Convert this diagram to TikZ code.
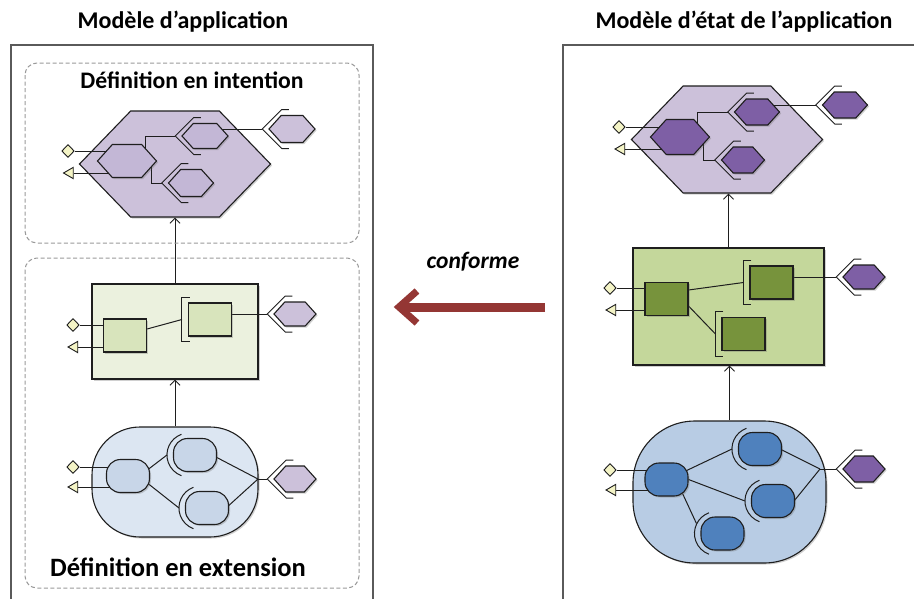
\documentclass[tikz,border=0pt]{standalone}
\usepackage{fontspec}
\setmainfont{Carlito}
\usetikzlibrary{shapes.symbols,shapes.geometric,arrows.meta,calc,shadows}
\pgfdeclarelayer{bg}
\pgfdeclarelayer{mid}
\pgfsetlayers{bg,mid,main}
\definecolor{outl}{HTML}{1E1E1E}
\definecolor{frame}{HTML}{5A5A5A}
\definecolor{dash}{HTML}{9A9A9A}
\definecolor{purL}{HTML}{CCC1DA}
\definecolor{purM}{HTML}{C3B7D6}
\definecolor{purD}{HTML}{7E5FA5}
\definecolor{grnLL}{HTML}{EBF1DE}
\definecolor{grnM}{HTML}{D8E4BC}
\definecolor{grnD}{HTML}{C4D79B}
\definecolor{grnDD}{HTML}{77933C}
\definecolor{bluLL}{HTML}{DCE6F2}
\definecolor{bluM}{HTML}{C8D6E8}
\definecolor{bluD}{HTML}{B8CCE4}
\definecolor{bluDD}{HTML}{4F81BD}
\definecolor{yel}{HTML}{F4F4C6}
\definecolor{conf}{HTML}{943634}
\tikzset{
  shad/.style={drop shadow={shadow xshift=1.5pt,shadow yshift=-1.5pt,opacity=0.3,fill=black!60}},
  hexs/.style={signal, signal to=east and west, signal pointer angle=96, draw=outl, line width=1.1pt, inner sep=0pt, shad},
  hexbig/.style={signal, signal to=east and west, signal pointer angle=92, draw=outl, line width=1.1pt, inner sep=0pt, minimum width=191pt, minimum height=106pt, shad},
  rbox/.style={rectangle, draw=outl, line width=1.1pt, inner sep=0pt, minimum width=43pt, minimum height=33pt, shad},
  obox/.style={rectangle, rounded corners=14pt, draw=outl, line width=1.1pt, inner sep=0pt, minimum width=43pt, minimum height=33pt, shad},
  cbox/.style={rectangle, draw=outl, line width=1.1pt, inner sep=0pt, minimum width=166pt, minimum height=95pt, shad},
  cont/.style={rectangle, draw=outl, line width=1.1pt, inner sep=0pt, shad},
  dia/.style={diamond, draw=outl, fill=yel, line width=0.9pt, inner sep=0pt, minimum width=12.5pt, minimum height=13pt},
  tri/.style={regular polygon, regular polygon sides=3, shape border rotate=90, draw=outl, fill=yel, line width=0.9pt, inner sep=0pt, minimum size=13pt},
  con/.style={draw=outl, line width=1pt},
  brk/.style={draw=outl, line width=1pt},
  arr/.style={draw=outl, line width=1pt, -{Straight Barb[length=5pt,width=10pt]}},
  dbox/.style={draw=dash, line width=1pt, dash pattern=on 4pt off 2.5pt, rounded corners=12pt},
  ttl/.style={font=\fontsize{24}{28}\selectfont\bfseries, inner sep=0pt},
}
\newcommand{\hbr}[3]{%
  \coordinate (#3) at ($(#1.west)+(-6,0)$);
  \draw[brk] ($(#3)+(#2+7,-#2)$) -- ++(-7,0) -- (#3) -- ++(#2,#2) -- ++(7,0);
}
\newcommand{\sbr}[3]{%
  \coordinate (#3) at ($(#1.west)+(-6,0)$);
  \draw[brk] ($(#3)+(8,-#2)$) -- ++(-8,0) -- ++(0,2*#2) -- ++(8,0);
}
\newcommand{\obr}[2]{%
  \coordinate (#2) at ($(#1.west)+(-6,0)$);
  \draw[brk] ($(#2)+(22,0)$) ++(110:22pt) arc[start angle=110,end angle=250,radius=22pt];
}
\begin{document}
\begin{tikzpicture}[x=1pt,y=-1pt]
\useasboundingbox (0,0) rectangle (914,598);
\begin{pgfonlayer}{bg}
\fill[white] (0,0) rectangle (914,598);
\end{pgfonlayer}
% titles
\node[ttl] (t1) at (183,22) {Modèle d’application};
\node[ttl] (t2) at (744,22) {Modèle d’état de l’application};
% frames
\draw[frame, line width=1.8pt] (11,605) -- (11,45) -- (373,45) -- (373,605);
\draw[frame, line width=1.8pt] (563,605) -- (563,45) -- (920,45);
\draw[dbox] (25,63) rectangle (359,243);
\draw[dbox] (25,258) rectangle (359,588);
\node[font=\fontsize{23.7}{28}\selectfont\bfseries] (di) at (192,80) {Définition en intention};
\node[font=\fontsize{26.5}{30}\selectfont\bfseries] (de) at (178,567) {Définition en extension};
% conforme
\node[font=\fontsize{23.5}{27}\selectfont\bfseries\itshape] (cf) at (473,262) {conforme};
\coordinate (cA) at (545,307);
\coordinate (cB) at (399,307);
\draw[conf, line width=9pt] (cA) -- ($(cB)+(4,0)$);
\draw[conf, line width=7pt, line join=miter] ($(cB)+(18,-16)$) -- (cB) -- ($(cB)+(18,16)$);

% ================= LEFT =================
\begin{pgfonlayer}{bg}
\node[hexbig, fill=purL] (H1) at (175,164) {};
\node[cbox, fill=grnLL] (B1) at (175,331.5) {};
\node[cont, fill=bluLL, minimum width=166pt, minimum height=110pt, rounded corners=48pt] (C1) at (175,482) {};
\end{pgfonlayer}
% top
\node[hexs, fill=purM, minimum width=59pt, minimum height=33pt] (Lm) at (127,161) {};
\node[hexs, fill=purM, minimum width=46pt, minimum height=25pt] (Lu) at (205,136) {};
\node[hexs, fill=purM, minimum width=45pt, minimum height=27pt] (Ll) at (191,183) {};
\node[hexs, fill=purL, minimum width=46pt, minimum height=27pt] (Le) at (292,129) {};
\node[dia] (Ld1) at (68,151) {};
\node[tri] (Lt1) at (70,173) {};
% middle
\node[rbox, fill=grnM] (Lr1) at (125,335.5) {};
\node[rbox, fill=grnM] (Lr2) at (210,319.5) {};
\node[hexs, fill=purL, minimum width=42pt, minimum height=24pt] (Le2) at (295,314) {};
\node[dia] (Ld2) at (73,325) {};
\node[tri] (Lt2) at (74.5,347) {};
% bottom
\node[obox, fill=bluM] (Lo1) at (128,476) {};
\node[obox, fill=bluM] (Lo2) at (195,455) {};
\node[obox, fill=bluM] (Lo3) at (207,508) {};
\node[hexs, fill=purL, minimum width=42pt, minimum height=26pt] (Le3) at (295,479) {};
\coordinate (Lj) at (258,479);
\node[dia] (Ld3) at (73,467) {};
\node[tri] (Lt3) at (74.5,487) {};

\begin{pgfonlayer}{mid}
\hbr{Lu}{18.5}{Lub}
\hbr{Ll}{19.5}{Llb}
\hbr{Le}{19.5}{Leb}
\draw[con] (Lub) -| ($(Lm)+(18,0)$);
\draw[con] (Llb) -| ($(Lm)+(24,0)$);
\draw[con] (Leb) -- (Leb -| Lu);
\draw[con] (Ld1) -- (Ld1 -| Lm);
\draw[con] (Lt1) -- (Lt1 -| Lm);
\sbr{Lr2}{22}{Lr2b}
\hbr{Le2}{18}{Le2b}
\draw[con] ($(Lr1.east)+(0,-6.5)$) -- (Lr2b);
\draw[con] (Le2b) -- (Le2b -| Lr2);
\draw[con] (Ld2) -- (Ld2 -| Lr1);
\draw[con] (Lt2) -- (Lt2 -| Lr1);
\obr{Lo2}{Lo2b}
\obr{Lo3}{Lo3b}
\hbr{Le3}{19}{Le3b}
\draw[con] ($(Lo1.east)+(-4,-5)$) -- (Lo2b);
\draw[con] ($(Lo1.east)+(-4,6)$) -- (Lo3b);
\draw[con] ($(Lo2.east)+(-5,0)$) -- (Lj);
\draw[con] ($(Lo3.east)+(-3,0)$) -- (Lj);
\draw[con] (Lj) -- (Le3b);
\draw[con] (Ld3) -- (Ld3 -| Lo1);
\draw[con] (Lt3) -- (Lt3 -| Lo1);
\draw[arr] (B1.north) -- (B1.north |- H1.south);
\draw[arr] (C1.north) -- (C1.north |- B1.south);
\end{pgfonlayer}

% ================= RIGHT =================
\begin{pgfonlayer}{bg}
\node[hexbig, fill=purL, minimum height=107pt] (H2) at (727,139.5) {};
\node[cbox, fill=grnD, minimum width=191pt, minimum height=117pt] (B2) at (728.5,306.5) {};
\node[cont, fill=bluD, minimum width=193pt, minimum height=142pt, rounded corners=62pt] (C2) at (729.5,492) {};
\end{pgfonlayer}
\node[hexs, fill=purD, minimum width=59pt, minimum height=35pt] (Rm) at (680,137) {};
\node[hexs, fill=purD, minimum width=45pt, minimum height=26pt] (Ru) at (757,112) {};
\node[hexs, fill=purD, minimum width=43pt, minimum height=26pt] (Rl) at (743,160) {};
\node[hexs, fill=purD, minimum width=45pt, minimum height=26pt] (Re) at (845,105) {};
\node[dia] (Rd1) at (619,127) {};
\node[tri] (Rt1) at (621.5,149) {};
\node[rbox, fill=grnDD] (Rr1) at (666.5,299) {};
\node[rbox, fill=grnDD] (Rr2) at (771.5,282.5) {};
\node[rbox, fill=grnDD] (Rr3) at (743.5,334) {};
\node[hexs, fill=purD, minimum width=42pt, minimum height=24pt] (Re2) at (864,277) {};
\node[dia] (Rd2) at (610,288) {};
\node[tri] (Rt2) at (612.5,310) {};
\node[obox, fill=bluDD] (Ro1) at (666.5,479.5) {};
\node[obox, fill=bluDD] (Ro2) at (760,449) {};
\node[obox, fill=bluDD] (Ro3) at (773,501) {};
\node[obox, fill=bluDD] (Ro4) at (722.5,533.5) {};
\node[hexs, fill=purD, minimum width=42pt, minimum height=26pt] (Re3) at (864,469) {};
\coordinate (Rj) at (820,469);
\node[dia] (Rd3) at (610,470) {};
\node[tri] (Rt3) at (612.5,490) {};

\begin{pgfonlayer}{mid}
\hbr{Ru}{19}{Rub}
\hbr{Rl}{19}{Rlb}
\hbr{Re}{19}{Reb}
\draw[con] (Rub) -| ($(Rm)+(17,0)$);
\draw[con] (Rlb) -| ($(Rm)+(23,0)$);
\draw[con] (Reb) -- (Reb -| Ru);
\draw[con] (Rd1) -- (Rd1 -| Rm);
\draw[con] (Rt1) -- (Rt1 -| Rm);
\sbr{Rr2}{22}{Rr2b}
\sbr{Rr3}{22.5}{Rr3b}
\hbr{Re2}{18}{Re2b}
\draw[con] ($(Rr1.east)+(0,-9)$) -- (Rr2b);
\draw[con] ($(Rr1.east)+(0,7)$) -- (Rr3b);
\draw[con] (Re2b) -- (Re2b -| Rr2);
\draw[con] (Rd2) -- (Rd2 -| Rr1);
\draw[con] (Rt2) -- (Rt2 -| Rr1);
\obr{Ro2}{Ro2b}
\obr{Ro3}{Ro3b}
\obr{Ro4}{Ro4b}
\hbr{Re3}{19}{Re3b}
\draw[con] ($(Ro1.east)+(-4,-8)$) -- (Ro2b);
\draw[con] (Ro1.east) -- (Ro3b);
\draw[con] ($(Ro1.east)+(-6,14)$) -- ($(Ro4b)+(2,-10)$);
\draw[con] ($(Ro2.east)+(-2,0)$) -- (Rj);
\draw[con] ($(Ro3.east)+(-1,0)$) -- (Rj);
\draw[con] (Rj) -- (Re3b);
\draw[con] (Rd3) -- (Rd3 -| Ro1);
\draw[con] (Rt3) -- (Rt3 -| Ro1);
\draw[arr] (B2.north) -- (B2.north |- H2.south);
\draw[arr] (C2.north) -- (C2.north |- B2.south);
\end{pgfonlayer}
\end{tikzpicture}
\end{document}
